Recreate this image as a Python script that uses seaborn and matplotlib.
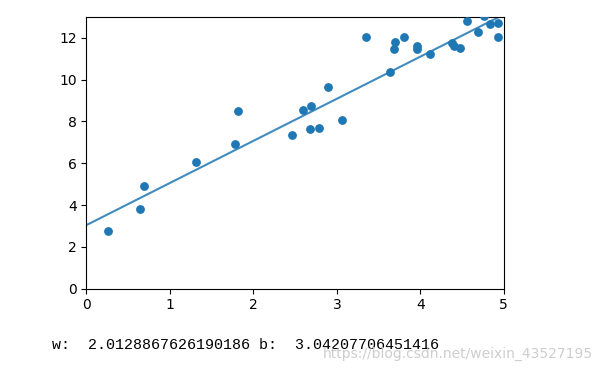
import matplotlib
matplotlib.use("Agg")
import matplotlib.pyplot as plt
import seaborn as sns
import numpy as np

# data
x_data = [0.254, 0.641, 0.686, 1.313, 1.777, 1.813, 2.468, 2.600, 2.695, 2.676,
          2.788, 2.892, 3.067, 3.351, 3.639, 3.683, 3.699, 3.803, 3.966, 3.966,
          4.119, 4.374, 4.398, 4.478, 4.554, 4.686, 4.758, 4.838, 4.930, 4.926]
y_data = [2.78, 3.80, 4.89, 6.07, 6.92, 8.48, 7.33, 8.53, 8.75, 7.64,
          7.70, 9.66, 8.05, 12.01, 10.38, 11.45, 11.78, 12.01, 11.58, 11.45,
          11.21, 11.77, 11.60, 11.52, 12.78, 12.29, 13.03, 12.65, 12.72, 12.01]

w = 2.0128867626190186
b = 3.04207706451416
line_x = np.array([0, 5])
line_y = w * line_x + b

fig = plt.figure(figsize=(6.03, 3.73), dpi=100)
ax = fig.add_axes([0.1434, 0.226, 0.692, 0.729])

sns.scatterplot(x=x_data, y=y_data, ax=ax, color='#1f77b4', s=40, linewidth=0, zorder=3)
sns.lineplot(x=line_x, y=line_y, ax=ax, color='#1f77b4', linewidth=1.5, alpha=0.85)

ax.set_xlim(0, 5)
ax.set_ylim(0, 13)
ax.set_yticks([0, 2, 4, 6, 8, 10, 12])

# printed result below the chart (watermark overlaps it, as in the original)
fig.text(0.0857, 0.075, "w:  " + str(w) + " b:  " + str(b),
         family='Liberation Mono', fontsize=10.8, va='center', ha='left')
fig.text(0.983, 0.051, "https://blog.csdn.net/weixin_43527195",
         fontsize=10, color='#c8c8c8', alpha=0.9, va='center', ha='right')

plt.savefig("out.png", dpi=100)
plt.close()
